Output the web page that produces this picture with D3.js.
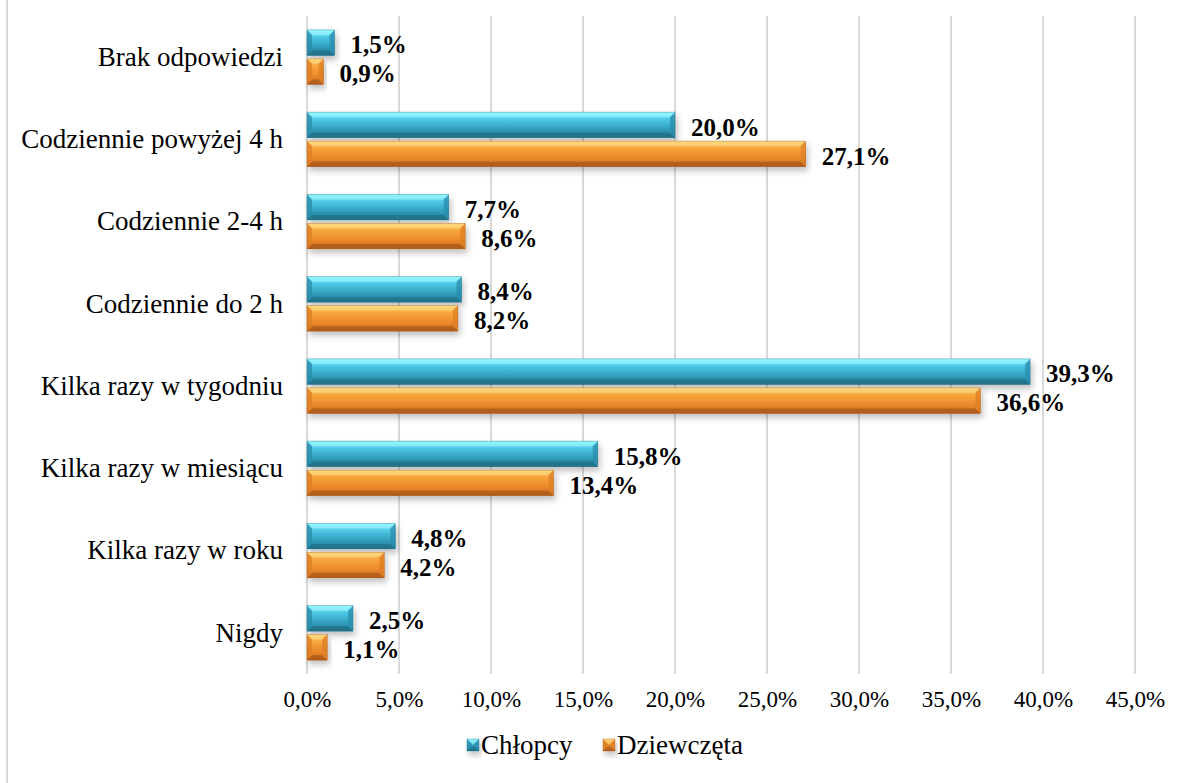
<!DOCTYPE html>
<html lang="pl">
<head>
<meta charset="UTF-8">
<title>chart</title>
<script src="https://d3js.org/d3.v7.min.js"></script>
<style>
    body { margin: 0; background: #fff; }
    text { font-family: "Liberation Serif", "Times New Roman", serif; fill: #000; }
    .grid line { stroke: #d9d9d9; stroke-width: 2; }
</style>
</head>
<body>
<script>
    const categories = ['Brak odpowiedzi', 'Codziennie powyżej 4 h', 'Codziennie 2-4 h', 'Codziennie do 2 h',
        'Kilka razy w tygodniu', 'Kilka razy w miesiącu', 'Kilka razy w roku', 'Nigdy']
    const seriesNames = ['Chłopcy', 'Dziewczęta']
    const chlopcy = [1.5, 20.0, 7.7, 8.4, 39.3, 15.8, 4.8, 2.5]
    const dziewczeta = [0.9, 27.1, 8.6, 8.2, 36.6, 13.4, 4.2, 1.1]
    const ticks = [0, 5, 10, 15, 20, 25, 30, 35, 40, 45]

    const width = 1183
    const height = 783
    const fmt = v => v.toFixed(1).replace('.', ',') + '%'

    const svg = d3.select('body').append('svg')
        .attr('width', width)
        .attr('height', height)

    // chart border on the left
    svg.append('line')
        .attr('x1', 7).attr('x2', 7).attr('y1', 0).attr('y2', height)
        .attr('stroke', '#d9d9d9').attr('stroke-width', 2)

    const defs = svg.append('defs')
    const palettes = [
        {id: 'gBlue', stops: ['#8af4ff', '#4cc6e4', '#2f9ab8', '#22748c'], dark: '#1f6f86', light: '#9af6ff', side: '#2a8fae'},
        {id: 'gOrange', stops: ['#ffd070', '#f7a33a', '#e9862a', '#b8621c'], dark: '#a9581a', light: '#ffdc85', side: '#e07f25'}
    ]
    palettes.forEach(p => {
        const g = defs.append('linearGradient').attr('id', p.id)
            .attr('x1', 0).attr('y1', 0).attr('x2', 0).attr('y2', 1)
        g.append('stop').attr('offset', '0%').attr('stop-color', p.stops[0])
        g.append('stop').attr('offset', '30%').attr('stop-color', p.stops[1])
        g.append('stop').attr('offset', '70%').attr('stop-color', p.stops[2])
        g.append('stop').attr('offset', '100%').attr('stop-color', p.stops[3])
    })
    const shadow = defs.append('filter').attr('id', 'shadow')
        .attr('x', '-10%').attr('y', '-20%').attr('width', '130%').attr('height', '180%')
    shadow.append('feDropShadow').attr('dx', 2).attr('dy', 4).attr('stdDeviation', 3)
        .attr('flood-color', '#000').attr('flood-opacity', 0.25)

    const x = d3.scaleLinear().domain([0, 45]).range([307, 1135])
    const y = d3.scaleBand().domain(categories).range([16, 674])
    const half = 27.25
    const inner = d3.scaleBand().domain(seriesNames).range([0, 2 * half]).paddingInner(0.12)

    // gridlines
    svg.append('g').attr('class', 'grid')
        .selectAll('line').data(ticks).enter().append('line')
        .attr('x1', d => x(d)).attr('x2', d => x(d))
        .attr('y1', 16).attr('y2', 674)

    // x axis labels
    const xAxis = d3.axisBottom(x).tickValues(ticks).tickFormat(d => d.toFixed(1).replace('.', ',') + '%')
        .tickSize(0).tickPadding(0)
    const ax = svg.append('g').attr('transform', 'translate(0,691)').call(xAxis)
    ax.select('.domain').remove()
    ax.selectAll('text').attr('font-size', 23).attr('dy', '0.71em').attr('fill', '#000')

    // y axis labels
    const yAxis = d3.axisLeft(y).tickSize(0).tickPadding(24)
    const ay = svg.append('g').attr('transform', 'translate(307,0)').call(yAxis)
    ay.select('.domain').remove()
    ay.selectAll('text').attr('font-size', 27).attr('fill', '#000')

    const rows = categories.map((c, i) => ({c: c, vals: [chlopcy[i], dziewczeta[i]]}))

    function bevelBar(g, x0, y0, w, h, p) {
        const b = Math.min(5, w / 2, h / 2)
        const bar = g.append('g').attr('filter', 'url(#shadow)')
        bar.append('rect').attr('x', x0).attr('y', y0).attr('width', w).attr('height', h)
            .attr('fill', 'url(#' + p.id + ')')
        // bevel edges
        bar.append('polygon').attr('fill', p.light).attr('opacity', 0.6)
            .attr('points', [[x0, y0], [x0 + w, y0], [x0 + w - b, y0 + b], [x0 + b, y0 + b]].join(' '))
        bar.append('polygon').attr('fill', p.dark).attr('opacity', 0.7)
            .attr('points', [[x0, y0 + h], [x0 + w, y0 + h], [x0 + w - b, y0 + h - b], [x0 + b, y0 + h - b]].join(' '))
        bar.append('polygon').attr('fill', p.side).attr('opacity', 0.8)
            .attr('points', [[x0, y0], [x0 + b, y0 + b], [x0 + b, y0 + h - b], [x0, y0 + h]].join(' '))
        bar.append('polygon').attr('fill', p.side).attr('opacity', 0.8)
            .attr('points', [[x0 + w, y0], [x0 + w - b, y0 + b], [x0 + w - b, y0 + h - b], [x0 + w, y0 + h]].join(' '))
        bar.append('rect').attr('x', x0).attr('y', y0).attr('width', w).attr('height', h)
            .attr('fill', 'none').attr('stroke', p.dark).attr('stroke-width', 0.6).attr('opacity', 0.6)
    }

    const groups = svg.selectAll('g.row').data(rows).enter().append('g')
        .attr('class', 'row')
        .attr('transform', d => 'translate(0,' + (y(d.c) + y.bandwidth() / 2 - half) + ')')

    groups.each(function (d) {
        const g = d3.select(this)
        d.vals.forEach((v, j) => {
            const yy = inner(seriesNames[j])
            bevelBar(g, x(0), yy, x(v) - x(0), inner.bandwidth(), palettes[j])
            g.append('text')
                .attr('x', x(v) + 16)
                .attr('y', yy + inner.bandwidth() / 2 + 2)
                .attr('dy', '0.35em')
                .attr('font-size', 25)
                .attr('font-weight', 'bold')
                .text(fmt(v))
        })
    })

    // legend
    const legend = svg.append('g').attr('transform', 'translate(0,745)')
    const legX = [467, 603]
    seriesNames.forEach((s, i) => {
        bevelBar(legend, legX[i], -6, 12, 12, palettes[i])
        legend.append('text').attr('x', legX[i] + 14).attr('y', 0).attr('dy', '0.35em')
            .attr('font-size', 27).text(s)
    })
</script>
</body>
</html>
